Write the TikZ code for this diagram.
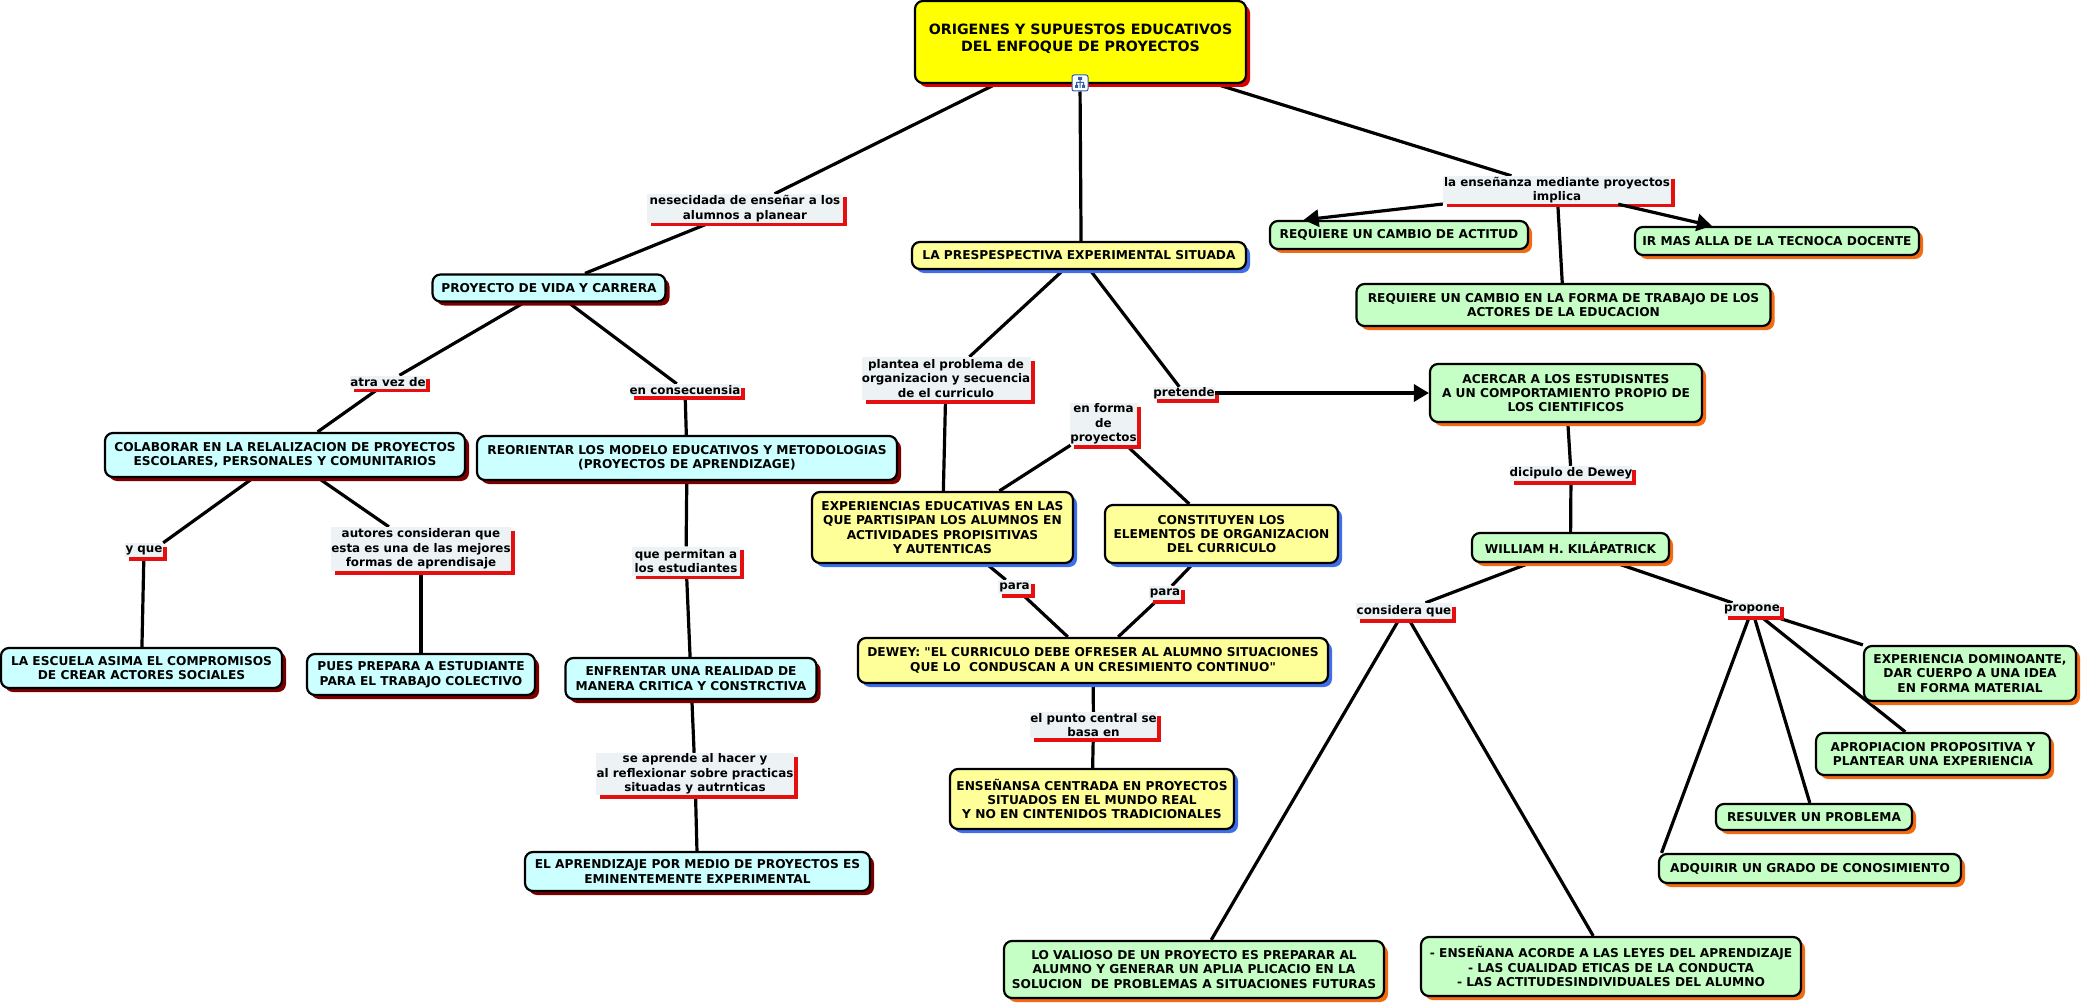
\documentclass[tikz,border=0pt]{standalone}
\usepackage{fontspec}
\newfontfamily\mapfont{DejaVu Sans}
\usepackage{tikz}
\usetikzlibrary{shadows, backgrounds, arrows.meta}

\definecolor{rootfill}{HTML}{FFFF00}
\definecolor{rootshade}{HTML}{DD0000}
\definecolor{yellowfill}{HTML}{FFFF99}
\definecolor{yellowshade}{HTML}{3F6FE8}
\definecolor{cyanfill}{HTML}{CCFFFF}
\definecolor{cyanshade}{HTML}{7A0000}
\definecolor{greenfill}{HTML}{C6FFC6}
\definecolor{greenshade}{HTML}{F26A12}
\definecolor{linkfill}{HTML}{EDF2F5}
\definecolor{linkshade}{HTML}{E60F0F}
\definecolor{iconblue}{HTML}{2F5FA8}

\tikzset{
  x=1pt, y=-1pt,
  boxsize/.style 2 args={minimum width=#1pt, minimum height=#2pt},
  basebox/.style={draw=black, line width=2.2pt, rounded corners=8pt, align=center,
    inner sep=0pt, text=black, font=\mapfont\fontsize{12.2}{14.4}\selectfont\bfseries},
  rootbox/.style={basebox, fill=rootfill, font=\mapfont\fontsize{14.2}{17}\selectfont\bfseries,
    general shadow={fill=rootshade, shadow xshift=4pt, shadow yshift=-4pt}},
  yellowbox/.style={basebox, fill=yellowfill,
    general shadow={fill=yellowshade, shadow xshift=4pt, shadow yshift=-4pt}},
  cyanbox/.style={basebox, fill=cyanfill,
    general shadow={fill=cyanshade, shadow xshift=4pt, shadow yshift=-4pt}},
  greenbox/.style={basebox, fill=greenfill,
    general shadow={fill=greenshade, shadow xshift=4pt, shadow yshift=-4pt}},
  linkbox/.style={fill=linkfill, align=center, inner sep=0pt, text=black, yshift=-1pt,
    font=\mapfont\fontsize{11.9}{14.4}\selectfont\bfseries,
    general shadow={fill=linkshade, shadow xshift=4pt, shadow yshift=-3.5pt}},
  conn/.style={draw=black, line width=3.2pt},
  connto/.style={conn, -{Triangle[length=15pt, width=17pt]}}
}

\begin{document}
\begin{tikzpicture}

\useasboundingbox ( 0, 0 ) rectangle ( 2083, 1003 );

% Root
\node (root) at ( 1080.5, 42 ) [rootbox, boxsize={331}{82}] {ORIGENES Y SUPUESTOS EDUCATIVOS\\DEL ENFOQUE DE PROYECTOS\\[-9pt]};
\node (icon) at ( 1080, 83 ) [draw=iconblue, fill=white, line width=1pt, rounded corners=2pt, boxsize={16}{16}, inner sep=0pt] {};
\fill [iconblue, shift={(icon.center)}] ( -2, -6 ) rectangle ( 2, -3 ) ( -5, 2 ) rectangle ( -2, 5 ) ( 2, 2 ) rectangle ( 5, 5 )
  ( -0.5, -3 ) rectangle ( 0.5, 5 ) ( -4, -1 ) rectangle ( 4, 0 ) ( -4, 0 ) rectangle ( -3, 2 ) ( 3, 0 ) rectangle ( 4, 2 );

% Left branch
\node (necesidad) at ( 745, 207.5 ) [linkbox, boxsize={196}{29}] {nesecidada de enseñar a los\\alumnos a planear};
\node (proyecto) at ( 549, 288 ) [cyanbox, boxsize={233}{27}] {PROYECTO DE VIDA Y CARRERA};
\node (atravez) at ( 388, 381 ) [linkbox, boxsize={75}{13}] {atra vez de};
\node (consecuencia) at ( 685, 389 ) [linkbox, boxsize={111}{12}] {en consecuensia};
\node (colaborar) at ( 285, 455 ) [cyanbox, boxsize={360}{44}] {COLABORAR EN LA RELALIZACION DE PROYECTOS\\ESCOLARES, PERSONALES Y COMUNITARIOS};
\node (reorientar) at ( 687, 458 ) [cyanbox, boxsize={420}{44}] {REORIENTAR LOS MODELO EDUCATIVOS Y METODOLOGIAS\\(PROYECTOS DE APRENDIZAGE)};
\node (yque) at ( 144, 549 ) [linkbox, boxsize={38}{14}] {y que};
\node (autores) at ( 421, 548 ) [linkbox, boxsize={180}{44}] {autores consideran que\\esta es una de las mejores\\formas de aprendisaje};
\node (permitan) at ( 686, 560 ) [linkbox, boxsize={108}{29}] {que permitan a\\los estudiantes};
\node (escuela) at ( 141.5, 668 ) [cyanbox, boxsize={281}{40}] {LA ESCUELA ASIMA EL COMPROMISOS\\DE CREAR ACTORES SOCIALES};
\node (prepara) at ( 421, 674.5 ) [cyanbox, boxsize={228}{41}] {PUES PREPARA A ESTUDIANTE\\PARA EL TRABAJO COLECTIVO};
\node (enfrentar) at ( 691, 678.5 ) [cyanbox, boxsize={251}{41}] {ENFRENTAR UNA REALIDAD DE\\MANERA CRITICA Y CONSTRCTIVA};
\node (aprende) at ( 695, 773 ) [linkbox, boxsize={198}{42}] {se aprende al hacer y\\al reflexionar sobre practicas\\situadas y autrnticas};
\node (aprendizaje) at ( 697.5, 871.5 ) [cyanbox, boxsize={345}{39}] {EL APRENDIZAJE POR MEDIO DE PROYECTOS ES\\EMINENTEMENTE EXPERIMENTAL};

% Middle branch
\node (perspectiva) at ( 1079, 255.5 ) [yellowbox, boxsize={334}{27}] {LA PRESPESPECTIVA EXPERIMENTAL SITUADA};
\node (plantea) at ( 946, 377.5 ) [linkbox, boxsize={169}{43}] {plantea el problema de\\organizacion y secuencia\\de el curriculo};
\node (pretende) at ( 1184, 392 ) [linkbox, boxsize={62}{12}] {pretende};
\node (forma) at ( 1103.5, 423 ) [linkbox, boxsize={67}{42}] {en forma\\de\\proyectos};
\node (experiencias) at ( 942.5, 527.5 ) [yellowbox, boxsize={261}{71}] {EXPERIENCIAS EDUCATIVAS EN LAS\\QUE PARTISIPAN LOS ALUMNOS EN\\ACTIVIDADES PROPISITIVAS\\Y AUTENTICAS};
\node (constituyen) at ( 1221.5, 534 ) [yellowbox, boxsize={233}{58}] {CONSTITUYEN LOS\\ELEMENTOS DE ORGANIZACION\\DEL CURRICULO};
\node (paraleft) at ( 1014.5, 586 ) [linkbox, boxsize={33}{14}] {para};
\node (pararight) at ( 1165, 592 ) [linkbox, boxsize={32}{14}] {para};
\node (dewey) at ( 1093, 660.5 ) [yellowbox, boxsize={470}{45}] {DEWEY: "EL CURRICULO DEBE OFRESER AL ALUMNO SITUACIONES\\QUE LO\ \ CONDUSCAN A UN CRESIMIENTO CONTINUO"};
\node (punto) at ( 1093.5, 724 ) [linkbox, boxsize={127}{26}] {el punto central se\\basa en};
\node (ensenansa) at ( 1092, 799 ) [yellowbox, boxsize={284}{60}] {ENSEÑANSA CENTRADA EN PROYECTOS\\SITUADOS EN EL MUNDO REAL\\Y NO EN CINTENIDOS TRADICIONALES};

% Right branch
\node (ensenanza) at ( 1557, 189 ) [linkbox, boxsize={228}{28}] {la enseñanza mediante proyectos\\implica};
\node (actitud) at ( 1399, 235 ) [greenbox, boxsize={258}{28}] {REQUIERE UN CAMBIO DE ACTITUD};
\node (tecnica) at ( 1777, 241 ) [greenbox, boxsize={284}{28}] {IR MAS ALLA DE LA TECNOCA DOCENTE};
\node (trabajo) at ( 1563.5, 305 ) [greenbox, boxsize={414}{42}] {REQUIERE UN CAMBIO EN LA FORMA DE TRABAJO DE LOS\\ACTORES DE LA EDUCACION};
\node (acercar) at ( 1566, 393 ) [greenbox, boxsize={272}{58}] {ACERCAR A LOS ESTUDISNTES\\A UN COMPORTAMIENTO PROPIO DE\\LOS CIENTIFICOS};
\node (dicipulo) at ( 1571, 472.5 ) [linkbox, boxsize={120}{15}] {dicipulo de Dewey};
\node (william) at ( 1570.5, 547.5 ) [greenbox, boxsize={197}{29}] {WILLIAM H. KILÁPATRICK};
\node (considera) at ( 1404, 610 ) [linkbox, boxsize={96}{16}] {considera que};
\node (propone) at ( 1752, 608.5 ) [linkbox, boxsize={56}{13}] {propone};
\node (valioso) at ( 1194, 969.5 ) [greenbox, boxsize={380}{57}] {LO VALIOSO DE UN PROYECTO ES PREPARAR AL\\ALUMNO Y GENERAR UN APLIA PLICACIO EN LA\\SOLUCION\ \ DE PROBLEMAS A SITUACIONES FUTURAS};
\node (acorde) at ( 1611, 966.5 ) [greenbox, boxsize={380}{59}] {- ENSEÑANA ACORDE A LAS LEYES DEL APRENDIZAJE\\- LAS CUALIDAD ETICAS DE LA CONDUCTA\\- LAS ACTITUDESINDIVIDUALES DEL ALUMNO};
\node (dominante) at ( 1970, 673.5 ) [greenbox, boxsize={212}{55}] {EXPERIENCIA DOMINOANTE,\\DAR CUERPO A UNA IDEA\\EN FORMA MATERIAL};
\node (apropiacion) at ( 1933, 754 ) [greenbox, boxsize={234}{42}] {APROPIACION PROPOSITIVA Y\\PLANTEAR UNA EXPERIENCIA};
\node (resulver) at ( 1814, 817 ) [greenbox, boxsize={196}{26}] {RESULVER UN PROBLEMA};
\node (adquirir) at ( 1810, 868.5 ) [greenbox, boxsize={302}{29}] {ADQUIRIR UN GRADO DE CONOSIMIENTO};

% Connectors
\begin{scope}[on background layer]
\draw [conn] (root) -- (necesidad);
\draw [conn] (necesidad) -- (proyecto);
\draw [conn] (proyecto) -- (atravez);
\draw [conn] (proyecto) -- (consecuencia);
\draw [conn] (atravez) -- (colaborar);
\draw [conn] (consecuencia) -- (reorientar);
\draw [conn] (colaborar) -- (yque.north east);
\draw [conn] (colaborar) -- (autores);
\draw [conn] (reorientar) -- (permitan);
\draw [conn] (yque) -- (escuela);
\draw [conn] (autores) -- (prepara);
\draw [conn] (permitan) -- (enfrentar);
\draw [conn] (enfrentar) -- (aprende);
\draw [conn] (aprende) -- (aprendizaje);

\draw [conn] (icon) -- (perspectiva.82);
\draw [conn] (perspectiva) -- (plantea);
\draw [conn] (perspectiva) -- (pretende);
\draw [conn] (plantea) -- (experiencias);
\draw [conn] (forma) -- (experiencias);
\draw [conn] (forma) -- (constituyen);
\draw [conn] (experiencias) -- (paraleft);
\draw [conn] (constituyen) -- (pararight);
\draw [conn] (paraleft) -- (dewey);
\draw [conn] (pararight) -- (dewey);
\draw [conn] (dewey) -- (punto);
\draw [conn] (punto) -- (ensenansa);

\draw [conn] (root) -- (ensenanza);
\draw [conn] (ensenanza) -- (trabajo);
\draw [conn] (acercar) -- (dicipulo);
\draw [conn] (dicipulo) -- (william);
\draw [conn] (william) -- (considera);
\draw [conn] (william) -- (propone);
\draw [conn] (considera) -- (valioso);
\draw [conn] (considera) -- (acorde);
\draw [conn] (propone) -- (dominante.north west);
\draw [conn] (propone) -- (apropiacion);
\draw [conn] (propone) -- (resulver);
\draw [conn] (propone) -- (adquirir.174);
\end{scope}

% Arrows
\draw [connto] (ensenanza.187) -- (actitud.171);
\draw [connto] (ensenanza) -- (tecnica);
\draw [connto] (pretende) -- (acercar);

\end{tikzpicture}
\end{document}
